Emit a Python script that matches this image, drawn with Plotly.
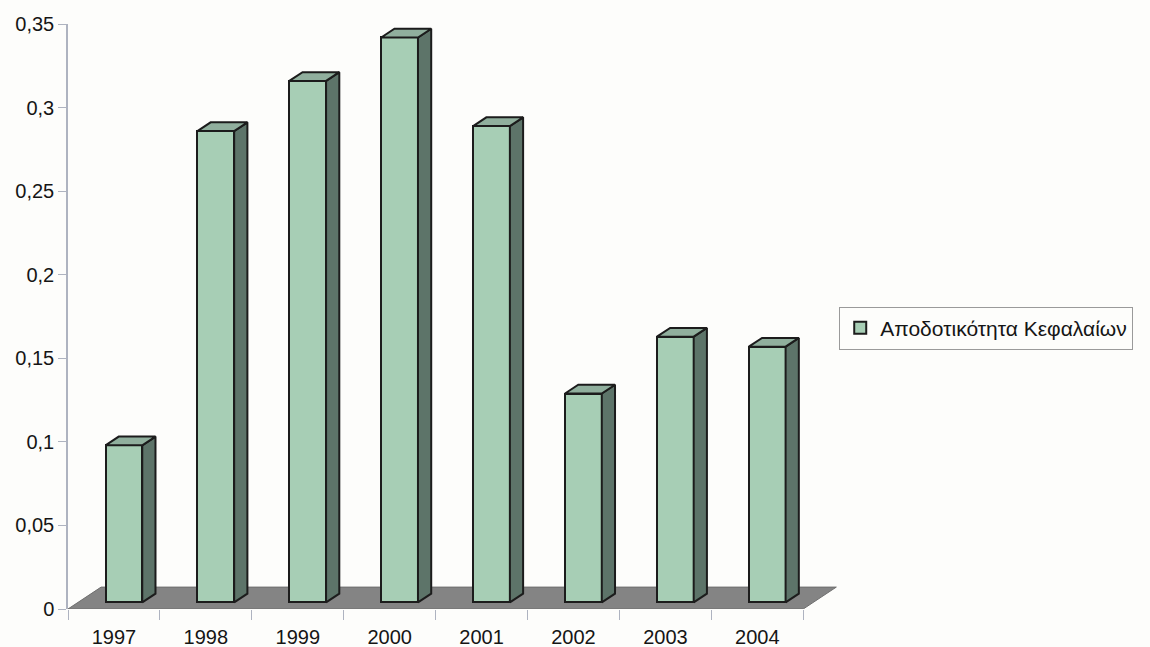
import plotly.graph_objects as go

# ---- data -------------------------------------------------------------
years = ["1997", "1998", "1999", "2000", "2001", "2002", "2003", "2004"]
returns = [0.094, 0.282, 0.312, 0.338, 0.285, 0.125, 0.159, 0.153]
y_tick_vals = [0, 0.05, 0.1, 0.15, 0.2, 0.25, 0.3, 0.35]
y_tick_text = ["0", "0,05", "0,1", "0,15", "0,2", "0,25", "0,3", "0,35"]
series_name = "Αποδοτικότητα Κεφαλαίων"

# ---- oblique 3D look ----------------------------------------------------
DEPTH_X = 0.36      # horizontal shift of the floor's back edge (category units)
DEPTH_Y = 0.0131    # vertical shift of the floor's back edge (value units)
BAR_FRONT = 0.30    # bars sit in the middle of the floor depth
BAR_DEPTH = 0.40
BAR_WIDTH = 0.40

FRONT = "#a7ceb5"
SIDE = "#5d7469"
TOP = "#90af9d"
FLOOR = "#848484"
EDGE = "#1c1c1c"
AXIS = "#aeb3c0"
TEXT = "#151515"
FONT = "Arial, Liberation Sans, sans-serif"

n = len(years)
pos = list(range(n))
base = BAR_FRONT * DEPTH_Y
xc = [p + BAR_FRONT * DEPTH_X for p in pos]
bdx = BAR_DEPTH * DEPTH_X
bdy = BAR_DEPTH * DEPTH_Y

side_x, side_y, top_x, top_y = [], [], [], []
for x, v in zip(xc, returns):
    xl, xr = x - BAR_WIDTH / 2, x + BAR_WIDTH / 2
    t = base + v
    side_x += [xr, xr + bdx, xr + bdx, xr, xr, None]
    side_y += [base, base + bdy, t + bdy, t, base, None]
    top_x += [xl, xr, xr + bdx, xl + bdx, xl, None]
    top_y += [t, t, t + bdy, t + bdy, t, None]

fig = go.Figure()

# front faces
fig.add_trace(go.Bar(
    x=xc, y=returns, base=base, width=BAR_WIDTH, name=series_name,
    marker=dict(color=FRONT, line=dict(color=EDGE, width=2)),
    hoverinfo="skip",
))
# right-hand side faces
fig.add_trace(go.Scatter(
    x=side_x, y=side_y, mode="lines", fill="toself", fillcolor=SIDE,
    line=dict(color=EDGE, width=2), showlegend=False, hoverinfo="skip",
))
# top faces
fig.add_trace(go.Scatter(
    x=top_x, y=top_y, mode="lines", fill="toself", fillcolor=TOP,
    line=dict(color=EDGE, width=2), showlegend=False, hoverinfo="skip",
))

# floor under the bars
x0, x1 = -0.5, n - 0.5
floor_path = (f"M {x0},0 L {x1},0 L {x1 + DEPTH_X},{DEPTH_Y} "
              f"L {x0 + DEPTH_X},{DEPTH_Y} Z")
fig.add_shape(type="path", path=floor_path, xref="x", yref="y",
              fillcolor=FLOOR, line=dict(color="#6e6e6e", width=1),
              layer="below")

fig.update_layout(
    width=1150, height=647,
    margin=dict(l=68, r=310, t=24, b=37.5),
    paper_bgcolor="#fdfdfb", plot_bgcolor="#fdfdfb",
    font=dict(family=FONT, size=20, color=TEXT),
    bargap=0,
    legend=dict(
        x=0.999, y=0.48, xanchor="left", yanchor="middle",
        bordercolor="#9a9a9a", borderwidth=1, bgcolor="#fdfdfb",
        font=dict(family=FONT, size=21, color=TEXT),
    ),
    xaxis=dict(
        range=[x0, x1 + DEPTH_X + 0.04],
        tickmode="array", tickvals=pos, ticktext=years,
        ticks="outside", ticklen=10, tickcolor="rgba(0,0,0,0)",
        showline=False, showgrid=False, zeroline=False,
        minor=dict(tickmode="array", tickvals=[p - 0.5 for p in range(n + 1)],
                   ticks="outside", ticklen=10, tickcolor=AXIS, tickwidth=1,
                   showgrid=False),
        automargin=False, fixedrange=True,
    ),
    yaxis=dict(
        range=[0, 0.35],
        tickmode="array", tickvals=y_tick_vals, ticktext=y_tick_text,
        ticks="outside", ticklen=8, tickcolor=AXIS,
        showline=True, linecolor=AXIS, linewidth=1.5,
        showgrid=False, zeroline=False, automargin=False, fixedrange=True,
    ),
)

fig.write_html("out.html")
